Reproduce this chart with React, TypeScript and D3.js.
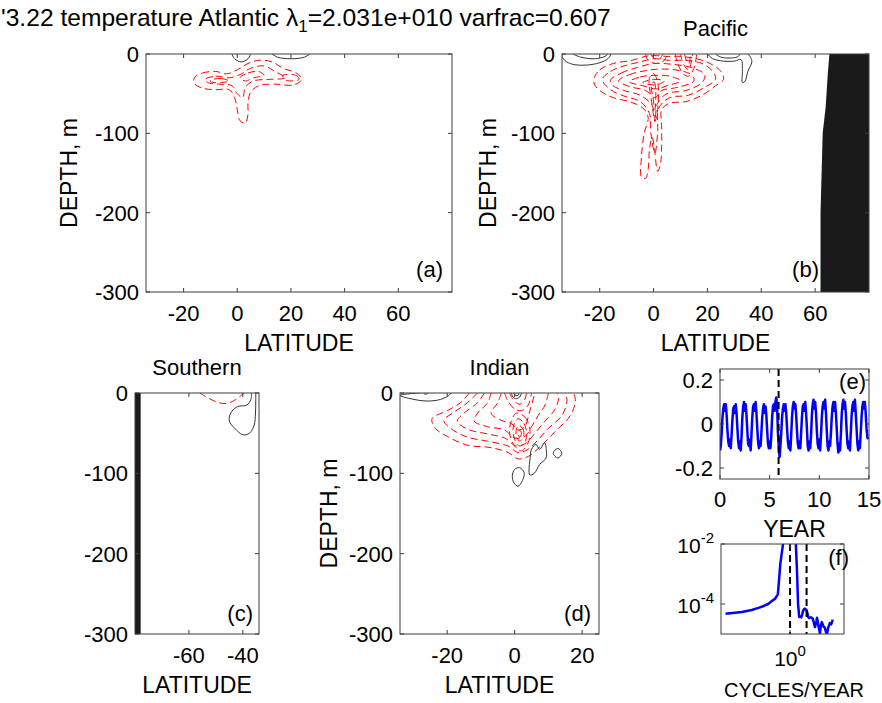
import React from "react";
import * as d3 from "d3";

type Pt = [number, number];

const FONT = "'Liberation Sans', Arial, Helvetica, sans-serif";

// ---------- text ----------
const titleMain = "'3.22 temperature Atlantic ";
const titleLambda = "λ";
const titleSub = "1";
const titleRest = "=2.031e+010 varfrac=0.607";
const basinTitles = ["Pacific", "Southern", "Indian"];
const panelTags = ["(a)", "(b)", "(c)", "(d)", "(e)", "(f)"];
const depthLabel = "DEPTH, m";
const latLabel = "LATITUDE";
const yearLabel = "YEAR";
const freqLabel = "CYCLES/YEAR";

// ---------- ticks ----------
const depthTicks = [0, -100, -200, -300];
const latTicksWide = [-20, 0, 20, 40, 60];
const latTicksSouth = [-60, -40];
const latTicksIndian = [-20, 0, 20];
const yearTicks = [0, 5, 10, 15];
const pcTicks = [0.2, 0, -0.2];
const powerTickExps = [-2, -4];
const freqTickExps = [0];
const markerYear = 5.9;
const markerFreqs = [1, 2];

// ---------- contours (lat, depth) ----------
const atlNeg: Pt[][] = [
  [[-16, -30], [-13, -24], [-8, -22], [-4, -25], [0, -20], [4, -12], [8, -8], [13, -10], [17, -18], [22, -24], [24, -32], [21, -39], [14, -38], [8, -40], [5, -48], [4, -62], [4, -76], [3, -87], [1, -84], [0, -70], [-1, -55], [-3, -45], [-8, -45], [-13, -43], [-16, -37]],
  [[-12, -32], [-8, -28], [-3, -30], [1, -26], [5, -18], [10, -15], [14, -22], [18, -30], [12, -32], [6, -34], [3, -42], [2, -55], [0, -50], [-2, -40], [-7, -38], [-11, -36]],
  [[-10, -33], [-6, -31], [-3, -34], [-6, -36], [-10, -35]],
  [[1, -30], [4, -24], [8, -22], [10, -27], [6, -30], [3, -34]],
  [[17, -27], [22, -27], [23, -32], [18, -33]],
];
const atlPos: Pt[][] = [
  [[-2, 0], [-1, -6], [1.5, -10], [4, -6], [5, 0]],
  [[13, 0], [15, -4], [20, -6], [25, -4], [27, 0]],
];

const pacNeg: Pt[][] = [
  [[-22, -30], [-20, -20], [-15, -12], [-8, -8], [-3, -3], [0, -2], [5, -3], [10, -3], [16, -6], [21, -12], [25, -22], [26, -32], [23, -40], [18, -52], [12, -60], [6, -62], [3, -70], [3, -90], [3, -115], [2.5, -140], [1.5, -148], [0.5, -125], [-0.5, -105], [-1.5, -120], [-2, -145], [-3, -157], [-4.5, -155], [-4.5, -130], [-3.5, -100], [-2, -80], [-4, -68], [-9, -60], [-15, -55], [-20, -46], [-22, -38]],
  [[-19, -32], [-16, -22], [-11, -15], [-5, -10], [0, -6], [6, -8], [12, -8], [18, -12], [22, -22], [23, -32], [19, -42], [13, -52], [6, -55], [2, -68], [1.5, -100], [0.5, -125], [-1, -100], [-1.5, -75], [-5, -60], [-11, -53], [-16, -45]],
  [[-16, -33], [-12, -24], [-6, -17], [0, -12], [7, -13], [14, -17], [19, -26], [18, -36], [12, -46], [5, -50], [1.5, -62], [0.5, -85], [-0.5, -65], [-5, -52], [-11, -46], [-15, -40]],
  [[-13, -34], [-9, -26], [-3, -21], [2, -19], [8, -20], [14, -26], [15, -34], [9, -42], [3, -46], [0.5, -55], [-3, -46], [-9, -41]],
  [[-9, -35], [-5, -29], [0, -27], [6, -28], [10, -34], [5, -40], [1, -44], [-4, -40]],
  [[-4, -36], [0, -32], [4, -34], [1, -39]],
  [[-3, 0], [-2, -8], [1, -12], [4, -8], [5, 0]],
  [[-1, 0], [0, -5], [2, -7], [3, -3], [3.5, 0]],
  [[8, 0], [9, -12], [11, -25], [13, -28], [15, -18], [16, 0]],
  [[10, 0], [11, -12], [13, -20], [14, -10], [14.5, 0]],
  [[11.5, 0], [12.3, -9], [13.2, -12], [13.6, -5], [13.8, 0]],
  [[-1.5, -30], [0, -25], [1.5, -35], [1.5, -70], [0.5, -85], [-0.5, -65]],
  [[-0.8, -40], [0.2, -35], [0.8, -45], [0.5, -70], [-0.2, -55]],
];
const pacPos: Pt[][] = [
  [[-34, -1], [-33, -8], [-30, -13], [-25, -14], [-20, -11], [-17, -6], [-16, 0]],
  [[-30, 0], [-27, -4], [-22, -6], [-18, -3], [-17, 0]],
  [[20, 0], [22, -6], [26, -9], [30, -9], [32.5, -7], [33, -20], [33, -36], [34, -34], [35, -22], [36.5, -10], [36, -4], [35, 0]],
  [[23, 0], [25, -4], [29, -5], [31.5, -3], [32, 0]],
];
const pacLand: Pt[] = [[65.3, 0], [64.7, -25], [63.9, -67], [62.8, -100], [62.0, -200], [62.0, -300], [80, -300], [80, 0]];

const souNeg: Pt[][] = [
  [[-56, 0], [-53, -6], [-49, -12], [-46, -13], [-43, -9], [-41, -4], [-39.5, 0]],
];
const souPos: Pt[][] = [
  [[-36.8, 0], [-37, -8], [-38.5, -15], [-42, -17], [-44.5, -25], [-45, -35], [-43, -44], [-40, -52], [-37.5, -50], [-35.8, -40], [-35.3, -25], [-35.2, -10], [-35.2, 0]],
];
const souLand: Pt[] = [[-80, 0], [-77.9, 0], [-77.9, -300], [-80, -300]];

const indNeg: Pt[][] = [
  [[-13.5, 0], [-16, -12], [-20, -22], [-24.5, -32], [-23.5, -44], [-20, -54], [-14, -65], [-7, -68], [-2, -74], [1, -82], [4, -79], [8, -65], [12, -48], [16.5, -28], [18, -10], [17.5, 0]],
  [[-11, 0], [-14, -12], [-18, -24], [-21, -34], [-19, -44], [-14, -55], [-8, -60], [-2, -66], [1, -74], [4, -70], [7, -58], [10, -44], [14, -28], [15.5, -10], [15, 0]],
  [[-9, 0], [-11, -12], [-15, -25], [-17, -35], [-14, -45], [-8, -51], [-3, -56], [0.5, -66], [3.5, -62], [6, -50], [9, -35], [12, -20], [13, -6], [12.5, 0]],
  [[-7, 0], [-8, -12], [-11, -25], [-12, -35], [-8, -42], [-3, -46], [0, -56], [3, -54], [5, -42], [7, -28], [9, -15], [10, 0]],
  [[-4, 0], [-5, -12], [-7, -25], [-4, -34], [-1, -38], [1, -46], [3, -42], [4, -30], [5, -15], [6, 0]],
  [[0.5, -25], [3, -30], [4.5, -45], [4, -62], [2, -72], [0, -66], [-1.5, -50], [-1, -35]],
  [[1, -32], [2.8, -38], [3.5, -50], [3, -62], [1.5, -66], [0, -58], [-0.5, -45], [0, -37]],
  [[1.2, -40], [2.5, -45], [2.6, -55], [1.5, -60], [0.5, -53], [0.5, -45]],
  [[1.4, -46], [2, -50], [1.5, -55], [1, -51]],
  [[-3, 0], [-2, -10], [0, -20], [2, -22], [4, -15], [5, 0]],
  [[-1.5, 0], [-0.5, -8], [1.5, -14], [3, -8], [3.5, 0]],
];
const indPos: Pt[][] = [
  [[-34, -3], [-31, -7], [-26, -10], [-22, -8], [-19.5, -3], [-19, 0]],
  [[-27, 0], [-26.5, -1.5], [-25.5, 0]],
  [[-1, 0], [-0.5, -5], [0.5, -7], [1.5, -5], [2, 0]],
  [[-0.3, 0], [0.3, -3], [1, -3], [1.3, 0]],
  [[0, -95], [1.5, -93], [2.8, -99], [2.3, -109], [1, -116], [-0.2, -112], [-0.7, -103]],
  [[4.5, -102], [4.6, -80], [5, -70], [6.3, -64], [7.4, -70], [8.9, -62], [9.4, -72], [9.3, -81], [7.4, -89], [5.8, -100]],
  [[11.4, -75], [12.8, -69], [14, -75], [12.8, -81]],
];

// ---------- PC time series (monthly, 15 years) ----------
const pcYear0 = [-0.12, -0.10, -0.04, 0.03, 0.07, 0.09, 0.06, 0.09, 0.04, -0.03, -0.08, -0.10];
const pcYear1 = [-0.07, -0.11, -0.05, 0.02, 0.07, 0.08, 0.05, 0.09, 0.05, -0.02, -0.08, -0.11];
const pcYear2 = [-0.08, -0.12, -0.06, 0.03, 0.08, 0.10, 0.06, 0.09, 0.04, -0.03, -0.09, -0.10];
const pcYear3 = [-0.07, -0.12, -0.05, 0.03, 0.08, 0.09, 0.06, 0.10, 0.05, -0.02, -0.08, -0.11];
const pcYear4 = [-0.08, -0.10, -0.04, 0.03, 0.07, 0.09, 0.05, 0.08, 0.04, -0.03, -0.09, -0.11];
const pcYear5 = [-0.08, -0.11, -0.05, 0.03, 0.08, 0.09, 0.06, 0.10, 0.12, 0.08, -0.04, -0.10];
const pcYear6 = [-0.15, -0.10, -0.04, 0.03, 0.07, 0.09, 0.06, 0.09, 0.05, -0.02, -0.08, -0.11];
const pcYear7 = [-0.08, -0.12, -0.05, 0.03, 0.08, 0.10, 0.07, 0.09, 0.04, -0.03, -0.09, -0.11];
const pcYear8 = [-0.08, -0.11, -0.04, 0.03, 0.08, 0.09, 0.06, 0.10, 0.05, -0.02, -0.10, -0.12];
const pcYear9 = [-0.08, -0.11, -0.05, 0.04, 0.09, 0.11, 0.07, 0.10, 0.05, -0.03, -0.09, -0.11];
const pcYear10 = [-0.07, -0.12, -0.05, 0.03, 0.08, 0.10, 0.07, 0.11, 0.05, -0.03, -0.10, -0.12];
const pcYear11 = [-0.08, -0.10, -0.04, 0.03, 0.08, 0.10, 0.06, 0.10, 0.05, -0.02, -0.09, -0.13];
const pcYear12 = [-0.09, -0.12, -0.05, 0.04, 0.09, 0.11, 0.07, 0.10, 0.05, -0.03, -0.09, -0.11];
const pcYear13 = [-0.08, -0.12, -0.04, 0.04, 0.08, 0.10, 0.06, 0.11, 0.05, -0.02, -0.09, -0.12];
const pcYear14 = [-0.08, -0.11, -0.04, 0.03, 0.08, 0.10, 0.07, 0.10, 0.05, -0.02, -0.06, -0.07];

// ---------- power spectrum ----------
const specFreq = [0.067, 0.133, 0.2, 0.267, 0.333, 0.4, 0.467, 0.533, 0.6, 0.667, 0.733, 0.8, 0.867, 0.933, 1.0, 1.067, 1.133, 1.2, 1.267, 1.333, 1.4, 1.467, 1.533, 1.6, 1.667, 1.733, 1.8, 1.867, 1.933, 2.0, 2.067, 2.133, 2.2, 2.4, 2.6, 2.85, 3.0, 3.1, 3.3, 3.5, 3.65, 3.8, 4.05, 4.3, 4.5, 4.7, 4.95, 5.3, 5.6, 6.0];
const specPower = [4.7e-5, 5.4e-5, 6.3e-5, 7.4e-5, 8.6e-5, 1.0e-4, 1.25e-4, 1.5e-4, 2.1e-4, 2.3e-3, 8e-3, 3e-2, 6e-2, 1e-1, 1.2e-1, 8e-2, 4e-2, 2e-2, 1.3e-2, 1.5e-3, 1e-4, 3.7e-5, 3.8e-5, 3.6e-5, 4.5e-5, 6e-5, 6.8e-5, 7e-5, 6.5e-5, 6.2e-5, 5e-5, 3.8e-5, 3.4e-5, 3.6e-5, 3.2e-5, 1.7e-5, 2.5e-5, 3.5e-5, 1.8e-5, 1.05e-5, 2e-5, 2.5e-5, 1.8e-5, 1.6e-5, 1.2e-5, 1e-5, 1.6e-5, 2.3e-5, 2.1e-5, 3e-5];

// ---------- styling ----------
const AX = "#3c3c3c";
const TL = 4;
const TICK_FS = 22;
const LABEL_FS = 23;
const RED = "#ff0000";
const GRAY = "#333333";
const LAND = "#1a1a1a";

type PanelCfg = {
  id: string;
  x0: number; x1: number; y0: number; y1: number;
  dom: [number, number];
  ticks: number[];
  neg: Pt[][];
  pos: Pt[][];
  land?: Pt[];
  title?: string;
  tag: string;
  tagX: number; tagY: number;
  yLabelX?: number;
};

function ContourPanel({ c }: { c: PanelCfg }) {
  const xs = d3.scaleLinear().domain(c.dom).range([c.x0, c.x1]);
  const ys = d3.scaleLinear().domain([0, -300]).range([c.y0, c.y1]);
  const mk = (pts: Pt[]) => {
    const closed = !(pts[0][1] === 0 && pts[pts.length - 1][1] === 0);
    return d3
      .line<Pt>()
      .x((d) => xs(d[0]))
      .y((d) => ys(d[1]))
      .curve(closed ? d3.curveCatmullRomClosed.alpha(0.5) : d3.curveCatmullRom.alpha(0.5))(pts) || "";
  };
  const landPath = c.land
    ? (d3.line<Pt>().x((d) => xs(d[0])).y((d) => ys(d[1]))(c.land) || "") + "Z"
    : null;
  const cx = (c.x0 + c.x1) / 2;
  const cy = (c.y0 + c.y1) / 2;
  return (
    <g>
      <defs>
        <clipPath id={c.id}>
          <rect x={c.x0} y={c.y0} width={c.x1 - c.x0} height={c.y1 - c.y0} />
        </clipPath>
      </defs>
      <g clipPath={`url(#${c.id})`}>
        {landPath && <path d={landPath} fill={LAND} stroke="none" />}
        {c.neg.map((p, i) => (
          <path key={"n" + i} d={mk(p)} fill="none" stroke={RED} strokeWidth={1} strokeDasharray="7,4" />
        ))}
        {c.pos.map((p, i) => (
          <path key={"p" + i} d={mk(p)} fill="none" stroke={GRAY} strokeWidth={1} />
        ))}
      </g>
      <rect x={c.x0} y={c.y0} width={c.x1 - c.x0} height={c.y1 - c.y0} fill="none" stroke={AX} strokeWidth={1} />
      {c.ticks.map((t) => (
        <g key={"xt" + t}>
          <line x1={xs(t)} x2={xs(t)} y1={c.y1} y2={c.y1 - TL} stroke={AX} />
          <line x1={xs(t)} x2={xs(t)} y1={c.y0} y2={c.y0 + TL} stroke={AX} />
          <text x={xs(t)} y={c.y1 + 29} textAnchor="middle" fontSize={TICK_FS}>{t}</text>
        </g>
      ))}
      {depthTicks.map((t) => (
        <g key={"yt" + t}>
          <line x1={c.x0} x2={c.x0 + TL} y1={ys(t)} y2={ys(t)} stroke={AX} />
          <line x1={c.x1} x2={c.x1 - TL} y1={ys(t)} y2={ys(t)} stroke={AX} />
          <text x={c.x0 - 7} y={ys(t) + 8} textAnchor="end" fontSize={TICK_FS}>{t}</text>
        </g>
      ))}
      <text x={cx} y={c.y1 + 59} textAnchor="middle" fontSize={LABEL_FS}>{latLabel}</text>
      {c.yLabelX !== undefined && (
        <text transform={`translate(${c.yLabelX},${cy}) rotate(-90)`} textAnchor="middle" fontSize={LABEL_FS}>{depthLabel}</text>
      )}
      {c.title && (
        <text x={cx} y={c.y0 - 18} textAnchor="middle" fontSize={22}>{c.title}</text>
      )}
      <text x={c.tagX} y={c.tagY} textAnchor="end" fontSize={22}>{c.tag}</text>
    </g>
  );
}

export default function App() {
  const panels: PanelCfg[] = [
    { id: "ca", x0: 146, x1: 452, y0: 54, y1: 292, dom: [-34, 80], ticks: latTicksWide, neg: atlNeg, pos: atlPos, tag: panelTags[0], tagX: 443, tagY: 277, yLabelX: 77 },
    { id: "cb", x0: 562, x1: 869, y0: 54, y1: 292, dom: [-34, 80], ticks: latTicksWide, neg: pacNeg, pos: pacPos, land: pacLand, title: basinTitles[0], tag: panelTags[1], tagX: 819, tagY: 277, yLabelX: 496 },
    { id: "cc", x0: 135, x1: 259, y0: 393, y1: 634, dom: [-80, -34], ticks: latTicksSouth, neg: souNeg, pos: souPos, land: souLand, title: basinTitles[1], tag: panelTags[2], tagX: 253, tagY: 621 },
    { id: "cd", x0: 400, x1: 599, y0: 393, y1: 634, dom: [-34, 25], ticks: latTicksIndian, neg: indNeg, pos: indPos, title: basinTitles[2], tag: panelTags[3], tagX: 591, tagY: 621, yLabelX: 337 },
  ];

  // time series panel (e)
  const ex0 = 720, ex1 = 869, ey0 = 369, ey1 = 479;
  const xe = d3.scaleLinear().domain([0, 15]).range([ex0, ex1]);
  const ye = d3.scaleLinear().domain([-0.25, 0.25]).range([ey1, ey0]);
  const pcValues = [pcYear0, pcYear1, pcYear2, pcYear3, pcYear4, pcYear5, pcYear6, pcYear7, pcYear8, pcYear9, pcYear10, pcYear11, pcYear12, pcYear13, pcYear14].flat();
  const pcPath = d3.line<number>().x((_, i) => xe(i / 12)).y((d) => ye(d))(pcValues) || "";

  // spectrum panel (f)
  const fx0 = 721, fx1 = 844, fy0 = 544, fy1 = 634;
  const xf = d3.scaleLog().domain([0.0553, 9.6]).range([fx0, fx1]);
  const yf = d3.scaleLog().domain([1e-5, 1e-2]).range([fy1, fy0]);
  const specPath = d3.line<number>().x((d) => xf(d)).y((_, i) => yf(specPower[i]))(specFreq) || "";

  return (
    <svg width={882} height={703} style={{ position: "absolute", left: 0, top: 0, background: "#fff" }} fontFamily={FONT} fill="#000">
      <rect x={0} y={0} width={882} height={703} fill="#fff" />
      <text x={1} y={26} fontSize={24.6}>
        {titleMain}
        {titleLambda}
        <tspan dy={6} fontSize={17}>{titleSub}</tspan>
        <tspan dy={-6}>{titleRest}</tspan>
      </text>

      {panels.map((p) => (
        <ContourPanel key={p.id} c={p} />
      ))}

      {/* panel (e) */}
      <defs>
        <clipPath id="ce"><rect x={ex0} y={ey0} width={ex1 - ex0} height={ey1 - ey0} /></clipPath>
        <clipPath id="cf"><rect x={fx0} y={fy0} width={fx1 - fx0} height={fy1 - fy0} /></clipPath>
      </defs>
      <g clipPath="url(#ce)">
        <path d={pcPath} fill="none" stroke="#0000ff" strokeWidth={2.5} strokeLinejoin="round" />
        <line x1={xe(markerYear)} x2={xe(markerYear)} y1={ey0} y2={ey1} stroke="#000" strokeWidth={2} strokeDasharray="7,4" />
      </g>
      <rect x={ex0} y={ey0} width={ex1 - ex0} height={ey1 - ey0} fill="none" stroke={AX} />
      {yearTicks.map((t) => (
        <g key={"ey" + t}>
          <line x1={xe(t)} x2={xe(t)} y1={ey1} y2={ey1 - TL} stroke={AX} />
          <line x1={xe(t)} x2={xe(t)} y1={ey0} y2={ey0 + TL} stroke={AX} />
          <text x={xe(t)} y={ey1 + 28} textAnchor="middle" fontSize={TICK_FS}>{t}</text>
        </g>
      ))}
      {pcTicks.map((t) => (
        <g key={"ep" + t}>
          <line x1={ex0} x2={ex0 + TL} y1={ye(t)} y2={ye(t)} stroke={AX} />
          <line x1={ex1} x2={ex1 - TL} y1={ye(t)} y2={ye(t)} stroke={AX} />
          <text x={ex0 - 7} y={ye(t) + 8} textAnchor="end" fontSize={TICK_FS}>{t}</text>
        </g>
      ))}
      <text x={(ex0 + ex1) / 2} y={537} textAnchor="middle" fontSize={LABEL_FS}>{yearLabel}</text>
      <text x={866} y={389} textAnchor="end" fontSize={22}>{panelTags[4]}</text>

      {/* panel (f) */}
      <g clipPath="url(#cf)">
        <path d={specPath} fill="none" stroke="#0000ff" strokeWidth={2.5} strokeLinejoin="round" />
        {markerFreqs.map((f) => (
          <line key={"mf" + f} x1={xf(f)} x2={xf(f)} y1={fy0} y2={fy1} stroke="#000" strokeWidth={2} strokeDasharray="7,4" />
        ))}
      </g>
      <rect x={fx0} y={fy0} width={fx1 - fx0} height={fy1 - fy0} fill="none" stroke={AX} />
      {powerTickExps.map((e) => (
        <g key={"pw" + e}>
          <line x1={fx0} x2={fx0 + TL} y1={yf(Math.pow(10, e))} y2={yf(Math.pow(10, e))} stroke={AX} />
          <line x1={fx1} x2={fx1 - TL} y1={yf(Math.pow(10, e))} y2={yf(Math.pow(10, e))} stroke={AX} />
          <text x={fx0 - 7} y={yf(Math.pow(10, e)) + 9} textAnchor="end" fontSize={21}>
            10<tspan dy={-10} fontSize={15}>{e}</tspan>
          </text>
        </g>
      ))}
      {freqTickExps.map((e) => (
        <g key={"fq" + e}>
          <line x1={xf(Math.pow(10, e))} x2={xf(Math.pow(10, e))} y1={fy1} y2={fy1 - TL} stroke={AX} />
          <line x1={xf(Math.pow(10, e))} x2={xf(Math.pow(10, e))} y1={fy0} y2={fy0 + TL} stroke={AX} />
          <text x={xf(Math.pow(10, e))} y={fy1 + 32} textAnchor="middle" fontSize={21}>
            10<tspan dy={-10} fontSize={15}>{e}</tspan>
          </text>
        </g>
      ))}
      <text x={794} y={697} textAnchor="middle" fontSize={20}>{freqLabel}</text>
      <text x={849} y={565} textAnchor="end" fontSize={22}>{panelTags[5]}</text>
    </svg>
  );
}
